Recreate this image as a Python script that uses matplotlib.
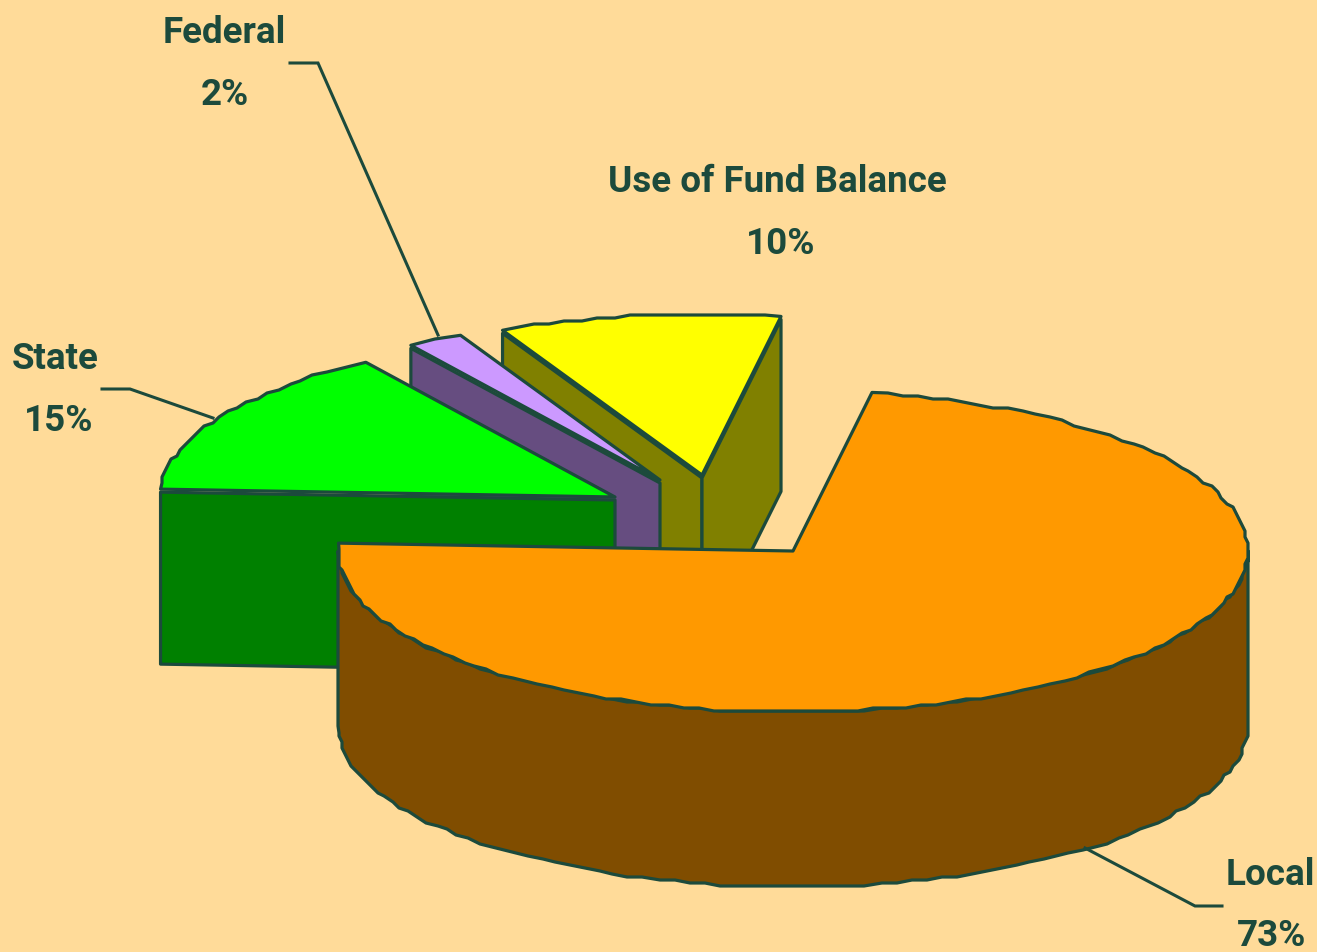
#!/usr/bin/env python3

import numpy as np
import matplotlib.pyplot as plt
from matplotlib.patches import Polygon

plt.rcParams["font.family"] = ["Roboto", "Liberation Sans", "DejaVu Sans"]

# revenue sources, clockwise from the start angle
labels = ["Local", "State", "Federal", "Use of Fund Balance"]
shares = [73, 15, 2, 10]

top_colors = ["#FF9900", "#00FF00", "#CC99FF", "#FFFF00"]
side_colors = ["#804D00", "#008000", "#664D80", "#808000"]
BG = "#FFDB99"
INK = "#1C4A3C"

# pie geometry in pixels
RX = 455
RY = 161
DEPTH = 175
START = 80
SEAM = 3
GRID = 3
centers = [(793, 551), (615, 497), (660, 480), (702, 475)]

# name x, name y, percent x, percent y
label_pos = [(1270, 875, 1272, 936), (55, 359, 59, 421), (224, 33, 225, 95), (777, 182, 781, 244)]
leaders = {
    "Federal": [(290, 63), (318, 63), (438, 335)],
    "State": [(102, 389), (130, 389), (213, 418)],
    "Local": [(1222, 906), (1195, 906), (1085, 848)],
}


def rim(cx, cy, t0, t1):
    # outline of the rim, snapped to a coarse grid so it steps a little
    n = max(int(abs(t1 - t0) * 0.5), 2)
    t = np.radians(np.linspace(t0, t1, n))
    x = cx + RX * np.cos(t)
    y = cy - RY * np.sin(t)
    x[1:-1] = np.round(x[1:-1] / GRID) * GRID
    y[1:-1] = np.round(y[1:-1] / GRID) * GRID
    return np.column_stack([x, y])


def poly(ax, pts, color):
    ax.add_patch(Polygon(pts, closed=True, facecolor=color, edgecolor=INK,
                         linewidth=2.3, joinstyle="round"))


def cut_face(ax, cx, cy, t, color):
    # flat side of a slice, from the tip out to the rim at angle t
    a = np.radians(t)
    ex = cx + RX * np.cos(a)
    ey = cy - RY * np.sin(a)
    poly(ax, [(cx, cy + SEAM), (ex, ey + SEAM), (ex, ey + DEPTH), (cx, cy + DEPTH)], color)


def draw_slice(ax, i, t0, t1):
    # t0 is the clockwise end of the slice, t1 the side it starts from
    cx, cy = centers[i]
    if labels[i] == "Local":
        # only the front of the big slice has a wall
        front = rim(cx, cy, 180, 360)
        back = front[::-1] + [0, DEPTH]
        poly(ax, np.vstack([front, back]), side_colors[i])
    else:
        cut_face(ax, cx, cy, t1, side_colors[i])
        if labels[i] == "Use of Fund Balance":
            cut_face(ax, cx, cy, t0, side_colors[i])
    poly(ax, np.vstack([[(cx, cy)], rim(cx, cy, t0, t1)]), top_colors[i])


fig = plt.figure(figsize=(13.17, 9.52), dpi=100, facecolor=BG)
ax = fig.add_axes([0, 0, 1, 1])
ax.set_xlim(0, 1317)
ax.set_ylim(952, 0)
ax.axis("off")

# angles go clockwise from START
spans = [s * 3.6 for s in shares]
ends = START - np.cumsum(spans)
starts = ends + np.array(spans)

# back slices first, the big one goes over them
for i in [3, 2, 1, 0]:
    draw_slice(ax, i, ends[i], starts[i])

for name, pts in leaders.items():
    xs, ys = zip(*pts)
    ax.plot(xs, ys, color=INK, linewidth=2.2, solid_joinstyle="miter")

for name, val, (x1, y1, x2, y2) in zip(labels, shares, label_pos):
    ax.text(x1, y1, name, ha="center", va="center", color=INK, fontsize=26.5, fontweight="bold")
    ax.text(x2, y2, "%d%%" % val, ha="center", va="center", color=INK, fontsize=26.5, fontweight="bold")

fig.savefig("out.png", dpi=100, facecolor=BG)
